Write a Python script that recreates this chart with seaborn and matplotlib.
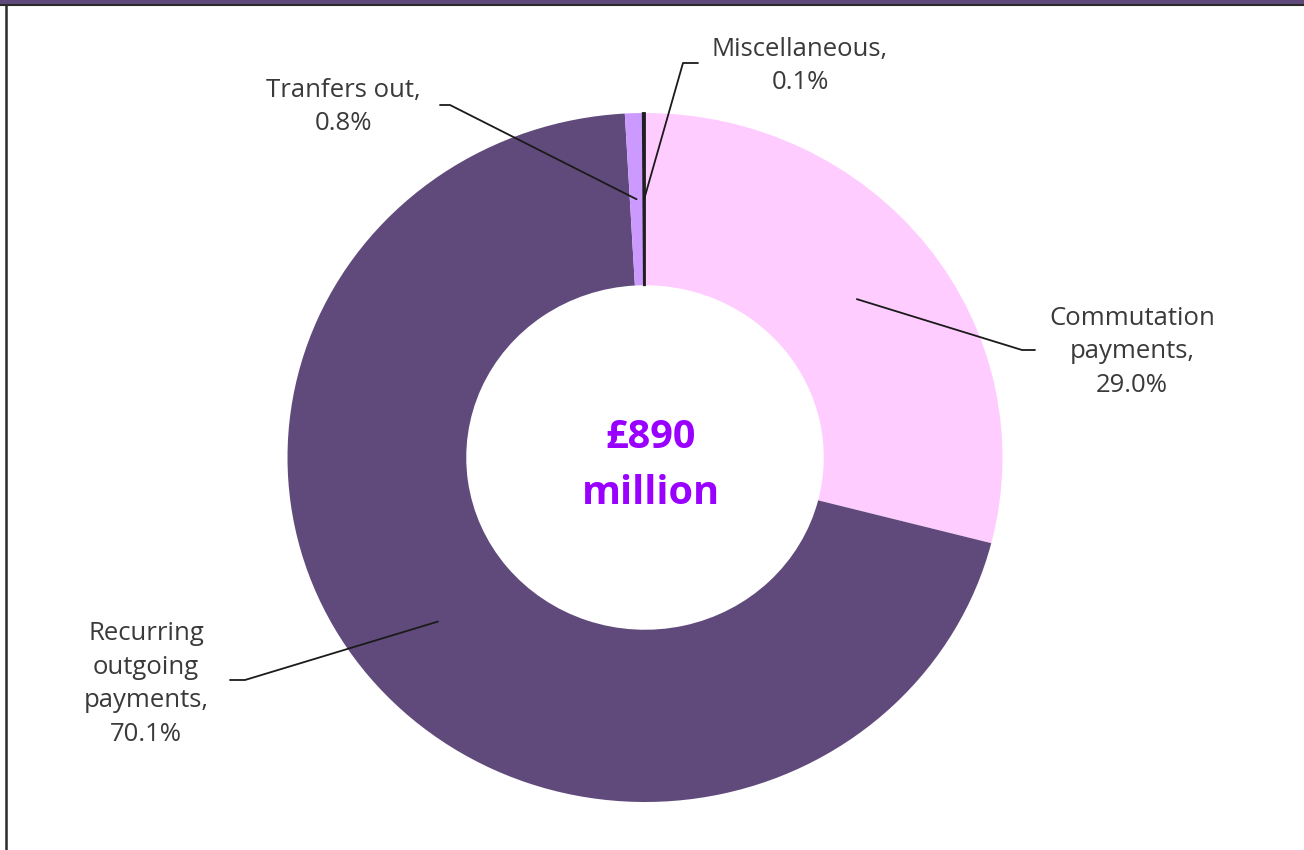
import numpy as np
import matplotlib
matplotlib.use("Agg")
import matplotlib.pyplot as plt
from matplotlib.lines import Line2D
from matplotlib.patches import Rectangle
import seaborn as sns

# ---- data ----
categories = ["Commutation\npayments", "Recurring\noutgoing\npayments", "Tranfers out", "Miscellaneous"]
shares = [29.0, 70.1, 0.8, 0.1]
pct_labels = ["29.0%", "70.1%", "0.8%", "0.1%"]
total_label = ["£890", "million"]
colors = ["#FFCCFF", "#604A7B", "#CC99FF", "#1F1F1F"]

sns.set_theme(style="white")
plt.rcParams["font.family"] = ["Open Sans", "DejaVu Sans"]

W, H = 1304, 850
fig = plt.figure(figsize=(W / 100, H / 100), dpi=100)
ax = fig.add_axes([0, 0, 1, 1])

# donut geometry in pixels
CX, CY, RX, RY = 645.0, 457.5, 357.5, 344.5


def px(x, y):
    return (x - CX) / RX, (CY - y) / RY


wedges, _ = ax.pie(shares, colors=colors, startangle=90, counterclock=False,
                   radius=1.0, wedgeprops=dict(width=0.5, linewidth=0),
                   normalize=True)
# make the tiny slice visible as a solid rule, as in the original
wedges[-1].set_edgecolor(colors[-1])
wedges[-1].set_linewidth(1.3)

ax.set_aspect("auto")
ax.set_xlim((0 - CX) / RX, (W - CX) / RX)
ax.set_ylim((CY - H) / RY, CY / RY)
ax.axis("off")

# label layout (pixel positions): bend point, end point, text center
layout = [
    dict(bend=(1022, 350), end=(1035, 350), text=(1132, 352)),
    dict(bend=(245, 680), end=(230, 680), text=(146, 684)),
    dict(bend=(450, 105), end=(440, 105), text=(343, 107)),
    dict(bend=(683, 63), end=(698, 63), text=(800, 66)),
]

text_color = "#3a3a3a"
cum = 0.0
tot = sum(shares)
for w, share, cat, pct, lay in zip(wedges, shares, categories, pct_labels, layout):
    mid = np.deg2rad(90 - (cum + share / 2) / tot * 360)
    cum += share
    ax_x, ax_y = 0.75 * np.cos(mid), 0.75 * np.sin(mid)
    bx, by = px(*lay["bend"])
    ex, ey = px(*lay["end"])
    ax.plot([ax_x, bx, ex], [ax_y, by, ey], color="#1a1a1a", lw=1.3,
            solid_joinstyle="round")
    tx, ty = px(*lay["text"])
    ax.text(tx, ty, f"{cat},\n{pct}", ha="center", va="center",
            fontsize=18.5, color=text_color, linespacing=1.44)

# centre total
x0, y0 = px(CX + 6, 437)
ax.text(x0, y0, total_label[0], ha="center", va="center", fontsize=28.5,
        fontweight="bold", color="#9900FF")
x1, y1 = px(CX + 6, 494)
ax.text(x1, y1, total_label[1], ha="center", va="center", fontsize=28.5,
        fontweight="bold", color="#9900FF")

# frame decorations: purple band at top, dark rules
fig.patches.append(Rectangle((0, 1 - 3.5 / H), 1, 3.5 / H, transform=fig.transFigure,
                             facecolor="#5F497A", edgecolor="none", zorder=5))
fig.lines.append(Line2D([0, 1], [1 - 4.5 / H, 1 - 4.5 / H], transform=fig.transFigure,
                        color="#2a2a2a", lw=1.5, zorder=5))
fig.lines.append(Line2D([5.5 / W, 5.5 / W], [0, 1 - 4.5 / H], transform=fig.transFigure,
                        color="#2a2a2a", lw=1.8, zorder=5))

fig.savefig("out.png", dpi=100, facecolor="white")
